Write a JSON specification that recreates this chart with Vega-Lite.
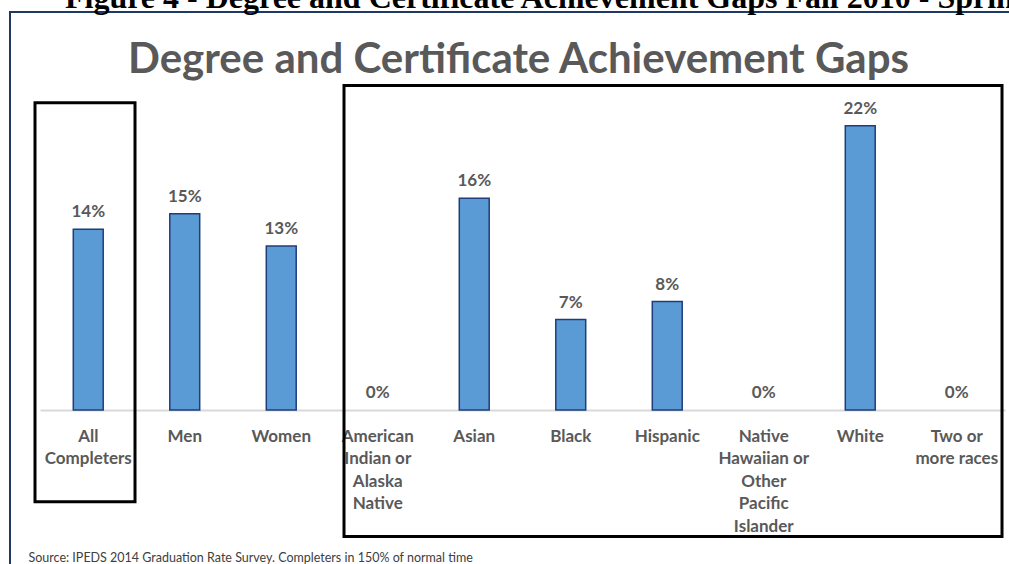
{
  "$schema": "https://vega.github.io/schema/vega-lite/v6.json",
  "autosize": {"type": "none"},
  "width": 965,
  "height": 310,
  "padding": {"left": 40, "top": 100, "right": 4, "bottom": 154},
  "background": "white",
  "config": {"view": {"stroke": null}},
  "title": {
    "text": "Figure 4 - Degree and Certificate Achievement Gaps Fall 2010 - Spring 2014",
    "font": "Liberation Serif",
    "fontSize": 32,
    "fontWeight": "bold",
    "color": "#000000",
    "anchor": "start",
    "frame": "group",
    "dx": 25,
    "dy": 32,
    "baseline": "alphabetic",
    "offset": 3
  },
  "data": {
    "values": [
      {"group": "All\nCompleters", "gap": 0.14},
      {"group": "Men", "gap": 0.152},
      {"group": "Women", "gap": 0.127},
      {"group": "American\nIndian or\nAlaska\nNative", "gap": 0},
      {"group": "Asian", "gap": 0.164},
      {"group": "Black", "gap": 0.07},
      {"group": "Hispanic", "gap": 0.084},
      {"group": "Native\nHawaiian or\nOther\nPacific\nIslander", "gap": 0},
      {"group": "White", "gap": 0.22},
      {"group": "Two or\nmore races", "gap": 0}
    ]
  },
  "resolve": {"axis": {"x": "independent"}},
  "layer": [
    {
      "mark": {"type": "bar", "fill": "#5b9bd5", "stroke": "#1f3d7a", "strokeWidth": 1.5},
      "encoding": {
        "x": {
          "field": "group",
          "type": "nominal",
          "sort": null,
          "scale": {"paddingInner": 0.69, "paddingOuter": 0.345},
          "axis": {
            "orient": "bottom",
            "title": "Source: IPEDS 2014 Graduation Rate Survey. Completers in 150% of normal time",
            "labelAngle": 0,
            "labelFont": "Lato",
            "labelFontSize": 17,
            "labelFontWeight": "bold",
            "labelColor": "#595959",
            "labelLineHeight": 22.5,
            "labelPadding": 18,
            "labelBaseline": "top",
            "labelLimit": 200,
            "labelExpr": "split(datum.value, '\\n')",
            "ticks": false,
            "domainColor": "#d9d9d9",
            "domainWidth": 2,
            "titleFont": "Lato",
            "titleFontSize": 12.5,
            "titleFontWeight": "normal",
            "titleColor": "#404040",
            "titleAnchor": "start",
            "titleAlign": "left",
            "titleBaseline": "alphabetic",
            "titleX": -12,
            "titleY": 151
          }
        },
        "y": {
          "field": "gap",
          "type": "quantitative",
          "scale": {"domain": [0, 0.24], "nice": false},
          "axis": null
        },
        "strokeOpacity": {"condition": {"test": "datum.gap > 0", "value": 1}, "value": 0}
      }
    },
    {
      "mark": {"type": "text", "font": "Lato", "fontSize": 17, "fontWeight": "bold", "color": "#595959", "baseline": "alphabetic", "dy": -12},
      "encoding": {
        "x": {
          "field": "group",
          "type": "nominal",
          "sort": null,
          "axis": {
            "orient": "top",
            "labels": false,
            "ticks": false,
            "domain": false,
            "title": "Degree and Certificate Achievement Gaps",
            "titleFont": "Lato",
            "titleFontSize": 42,
            "titleFontWeight": "bold",
            "titleColor": "#595959",
            "titleBaseline": "alphabetic",
            "titleAlign": "center",
            "titleX": 478,
            "titleY": -28
          }
        },
        "y": {"field": "gap", "type": "quantitative"},
        "text": {"field": "gap", "type": "quantitative", "format": ".0%"}
      }
    },
    {
      "data": {"values": [{"first": "All\nCompleters", "last": "Two or\nmore races"}]},
      "mark": {"type": "rect", "filled": false, "stroke": "#1f3864", "strokeWidth": 2},
      "encoding": {
        "x": {"field": "first", "type": "nominal", "sort": null, "bandPosition": -2.116, "axis": null},
        "x2": {"field": "last", "bandPosition": 2.45},
        "y": {"datum": 0.3081, "type": "quantitative"},
        "y2": {"datum": -0.124}
      }
    },
    {
      "data": {"values": [{"first": "All\nCompleters", "last": "All\nCompleters"}]},
      "mark": {"type": "rect", "filled": false, "stroke": "#000000", "strokeWidth": 3},
      "encoding": {
        "x": {"field": "first", "type": "nominal", "sort": null, "bandPosition": -1.28, "axis": null},
        "x2": {"field": "last", "bandPosition": 2.063},
        "y": {"datum": 0.2378, "type": "quantitative"},
        "y2": {"datum": -0.071}
      }
    },
    {
      "data": {"values": [{"first": "American\nIndian or\nAlaska\nNative", "last": "Two or\nmore races"}]},
      "mark": {"type": "rect", "filled": false, "stroke": "#000000", "strokeWidth": 3},
      "encoding": {
        "x": {"field": "first", "type": "nominal", "sort": null, "bandPosition": -0.628, "axis": null},
        "x2": {"field": "last", "bandPosition": 2.013},
        "y": {"datum": 0.2512, "type": "quantitative"},
        "y2": {"datum": -0.0979}
      }
    }
  ]
}
